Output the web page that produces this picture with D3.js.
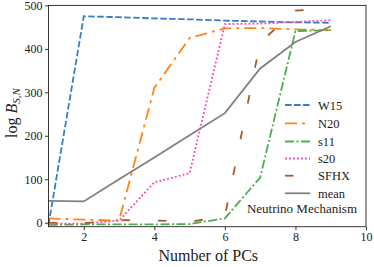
<!DOCTYPE html>
<html><head><meta charset="utf-8">
<script src="https://cdn.jsdelivr.net/npm/d3@7"></script>
<style>body{margin:0;background:#fff}svg{display:block}svg text{font-family:"Liberation Serif","DejaVu Serif",serif !important;fill:#222}</style>
</head><body>
<script>
const pcs = [1,2,3,4,5,6,7,8,9];
const seriesNames = ["W15","N20","s11","s20","SFHX","mean"];
const W15  = [-5, 475, 473, 470, 468, 465, 463, 461, 460];
const N20  = [10, 7, 5, 310, 425, 447, 448, 445, 443];
const s11  = [-5, -4, -4, -4, -3, 10, 104, 441, 443];
const s20  = [-2, -2, 5, 93, 114, 457, 458, 462, 466];
const SFHX = [0, -1, 6, 5, 2, 15, 415, 488, 492];
const mean = [50, 49, 100, 150, 201, 252, 355, 416, 452];
const xTicks = [2,4,6,8,10];
const yTicks = [0,100,200,300,400,500];
const annotation = "Neutrino Mechanism";

const values = [W15, N20, s11, s20, SFHX, mean];
const styles = [
  {c:"#3a7dc0", d:"6.5,2.5"},
  {c:"#ff8417", d:"12,5,3,5"},
  {c:"#4daf4a", d:"9,2.5,2,2.5"},
  {c:"#ff3fb4", d:"1.8,2.2"},
  {c:"#a85a2c", d:"8.5,28"},
  {c:"#808080", d:null}
];

const W=374,H=267, L=48.5, R=366, T=5.4, B=226.7;
const svg = d3.select("body").append("svg").attr("width",W).attr("height",H);
const x = d3.scaleLinear().domain([1,10]).range([L,R]);
const y = d3.scaleLinear().domain([-9.2,500]).range([B,T]);

const line = d3.line().x((d,i)=>x(pcs[i])).y(d=>y(d));
values.forEach((v,k)=>{
  svg.append("path").datum(v).attr("d",line)
    .attr("fill","none").attr("stroke",styles[k].c).attr("stroke-width",1.8)
    .attr("stroke-dasharray",styles[k].d);
});

// axes
const xa = svg.append("g").attr("transform",`translate(0,${B})`)
  .call(d3.axisBottom(x).tickValues(xTicks).tickSize(3.5).tickPadding(2.5).tickFormat(d3.format("d")));
const ya = svg.append("g").attr("transform",`translate(${L},0)`)
  .call(d3.axisLeft(y).tickValues(yTicks).tickSize(3.5).tickPadding(2.5).tickFormat(d3.format("d")));
[xa,ya].forEach(a=>{
  a.attr("font-family",null).attr("font-size",null);
  a.select(".domain").remove();
  a.selectAll("text").attr("font-size","12px").style("fill","#222");
  a.selectAll("line").attr("stroke","#222").attr("stroke-width",0.9);
});
svg.append("rect").attr("x",L).attr("y",T).attr("width",R-L).attr("height",B-T)
  .attr("fill","none").attr("stroke","#222").attr("stroke-width",0.9);

svg.append("text").attr("x",(L+R)/2+1).attr("y",261).attr("text-anchor","middle")
  .attr("font-size","16px").text("Number of PCs");

const yl = svg.append("text").attr("transform",`translate(17,${(T+B)/2-3}) rotate(-90)`)
  .attr("text-anchor","middle").attr("font-size","16px");
yl.append("tspan").text("log ");
yl.append("tspan").attr("font-style","italic").text("B");
yl.append("tspan").attr("font-size","11px").attr("dy",3).attr("font-style","italic").text("S,N");

// legend
const rowsY = [105,123.3,141.5,158.5,175.7,193.3];
seriesNames.forEach((n,k)=>{
  svg.append("line").attr("x1",285).attr("x2",310).attr("y1",rowsY[k]).attr("y2",rowsY[k])
    .attr("stroke",styles[k].c).attr("stroke-width",1.8).attr("stroke-dasharray",styles[k].d);
  svg.append("text").attr("x",318).attr("y",rowsY[k]+4.5).attr("font-size","12.5px").text(n);
});
svg.append("text").attr("x",357).attr("y",213).attr("text-anchor","end").attr("font-size","13px").text(annotation);
</script>
</body></html>
